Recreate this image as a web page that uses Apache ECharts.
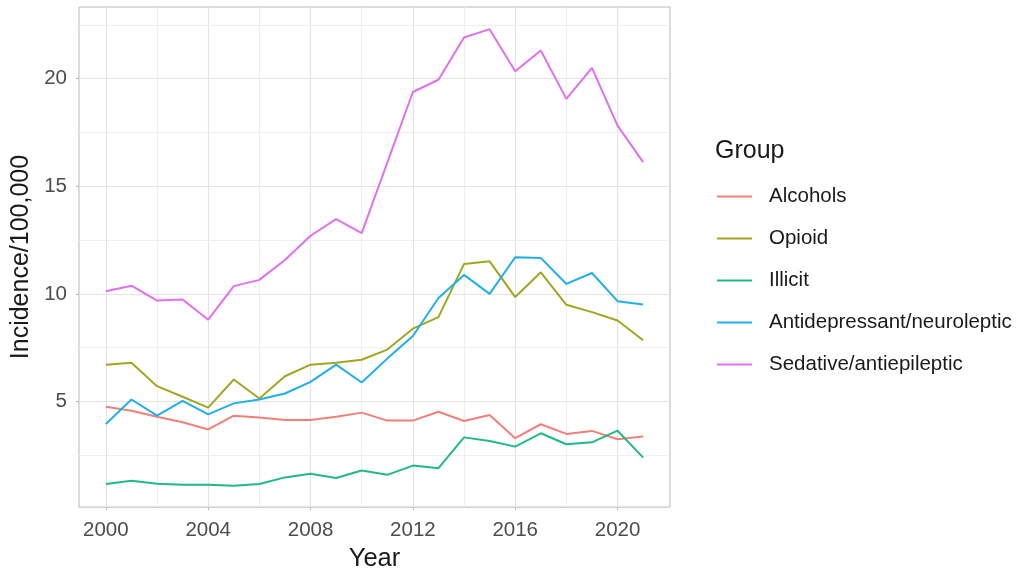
<!DOCTYPE html>
<html>
<head>
<meta charset="utf-8">
<script src="https://cdn.jsdelivr.net/npm/echarts@6/dist/echarts.min.js"></script>
<style>
html,body{margin:0;padding:0;background:#fff;}
#chart{width:1031px;height:577px;}
</style>
</head>
<body>
<div id="chart"></div>
<script>
const years = [2000,2001,2002,2003,2004,2005,2006,2007,2008,2009,2010,2011,2012,2013,2014,2015,2016,2017,2018,2019,2020,2021];
const alcohols = [4.75,4.57,4.29,4.03,3.70,4.34,4.25,4.14,4.14,4.29,4.48,4.11,4.11,4.52,4.09,4.37,3.29,3.94,3.49,3.63,3.24,3.37];
const opioid = [6.71,6.80,5.71,5.22,4.71,6.02,5.14,6.17,6.71,6.80,6.94,7.41,8.38,8.92,11.39,11.51,9.85,11.00,9.49,9.15,8.76,7.84];
const illicit = [1.16,1.31,1.17,1.13,1.13,1.08,1.16,1.47,1.64,1.44,1.79,1.59,2.02,1.90,3.33,3.16,2.90,3.52,3.01,3.10,3.64,2.39];
const antidepressant = [3.95,5.09,4.34,5.03,4.40,4.91,5.09,5.37,5.91,6.71,5.88,6.99,8.04,9.81,10.88,10.00,11.70,11.67,10.46,10.97,9.66,9.50];
const sedative = [10.12,10.38,9.69,9.74,8.80,10.36,10.65,11.57,12.70,13.47,12.82,16.10,19.38,19.95,21.91,22.30,20.34,21.31,19.06,20.50,17.82,16.12];
const groupNames = ['Alcohols','Opioid','Illicit','Antidepressant/neuroleptic','Sedative/antiepileptic'];
const groupValues = [alcohols, opioid, illicit, antidepressant, sedative];
const xTicks = [2000,2004,2008,2012,2016,2020];
const xMinor = [2002,2006,2010,2014,2018];
const yTicks = [5,10,15,20];
const yMinor = [2.5,7.5,12.5,17.5,22.5];

const colors = ['#F0807A','#A3A520','#20BA82','#22ADEB','#E071EC'];
const FONT = 'Liberation Sans, Arial, sans-serif';

const gridLines = [];
xTicks.forEach(v => gridLines.push({xAxis: v, lineStyle: {color: '#E4E4E4', width: 1.2, type: 'solid'}}));
xMinor.forEach(v => gridLines.push({xAxis: v, lineStyle: {color: '#EFEFEF', width: 1, type: 'solid'}}));
yTicks.forEach(v => gridLines.push({yAxis: v, lineStyle: {color: '#E4E4E4', width: 1.2, type: 'solid'}}));
yMinor.forEach(v => gridLines.push({yAxis: v, lineStyle: {color: '#EFEFEF', width: 1, type: 'solid'}}));

const series = groupNames.map((name, i) => ({
  name: name,
  type: 'line',
  data: years.map((y, j) => [y, groupValues[i][j]]),
  showSymbol: false,
  symbol: 'none',
  lineStyle: {width: 2, color: colors[i]},
  itemStyle: {color: colors[i]},
  z: 3,
  animation: false
}));
series.push({
  name: '_grid',
  type: 'line',
  data: [],
  silent: true,
  markLine: {
    silent: true,
    symbol: ['none','none'],
    label: {show: false},
    z: 1,
    animation: false,
    data: gridLines
  }
});

const chart = echarts.init(document.getElementById('chart'), null, {renderer: 'canvas'});
chart.setOption({
  animation: false,
  backgroundColor: '#fff',
  color: colors,
  title: {
    text: 'Group',
    left: 710,
    top: 134,
    textStyle: {fontFamily: FONT, fontSize: 25, fontWeight: 'normal', color: '#1a1a1a'}
  },
  legend: {
    data: groupNames,
    orient: 'vertical',
    left: 712,
    top: 181,
    icon: 'rect',
    itemWidth: 35,
    itemHeight: 2,
    itemGap: 21,
    textStyle: {fontFamily: FONT, fontSize: 20.5, color: '#1a1a1a', lineHeight: 20, padding: [0,0,0,12]}
  },
  grid: {
    left: 79, top: 7, width: 591, height: 502,
    show: true, borderColor: '#B8B8B8', borderWidth: 1, backgroundColor: 'transparent'
  },
  xAxis: {
    type: 'value',
    min: 1998.95,
    max: 2022.05,
    name: 'Year',
    nameLocation: 'middle',
    nameGap: 37,
    nameTextStyle: {fontFamily: FONT, fontSize: 25.5, color: '#1a1a1a'},
    axisLine: {show: false},
    axisTick: {show: true, customValues: xTicks, length: 3, lineStyle: {color: '#B8B8B8'}},
    axisLabel: {customValues: xTicks, margin: 13, fontFamily: FONT, fontSize: 20.5, color: '#4D4D4D', formatter: v => String(v)},
    splitLine: {show: false}
  },
  yAxis: {
    type: 'value',
    min: 0.09,
    max: 23.33,
    name: 'Incidence/100,000',
    nameLocation: 'middle',
    nameGap: 40,
    nameTextStyle: {fontFamily: FONT, fontSize: 25, color: '#1a1a1a'},
    axisLine: {show: false},
    axisTick: {show: true, customValues: yTicks, length: 3, lineStyle: {color: '#B8B8B8'}},
    axisLabel: {customValues: yTicks, margin: 12, fontFamily: FONT, fontSize: 20.5, color: '#4D4D4D', formatter: v => String(v)},
    splitLine: {show: false}
  },
  series: series
});
</script>
</body>
</html>
